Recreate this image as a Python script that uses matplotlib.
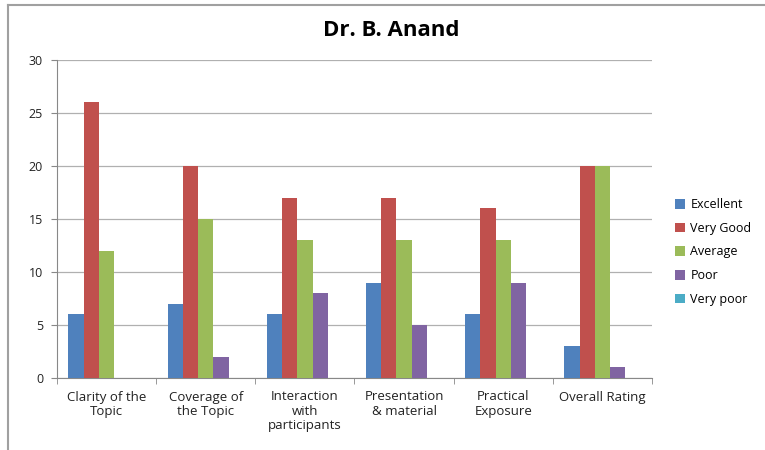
import matplotlib.pyplot as plt
import numpy as np
from matplotlib.lines import Line2D

plt.rcParams['font.family'] = ['Open Sans', 'DejaVu Sans']

categories = ['Clarity of the\nTopic', 'Coverage of\nthe Topic', 'Interaction\nwith\nparticipants',
              'Presentation\n& material', 'Practical\nExposure', 'Overall Rating']
series = ['Excellent', 'Very Good', 'Average', 'Poor', 'Very poor']
excellent = [6, 7, 6, 9, 6, 3]
very_good = [26, 20, 17, 17, 16, 20]
average = [12, 15, 13, 13, 13, 20]
poor = [0, 2, 8, 5, 9, 1]
very_poor = [0, 0, 0, 0, 0, 0]
values = [excellent, very_good, average, poor, very_poor]
colors = ['#4F81BD', '#C0504D', '#9BBB59', '#8064A2', '#4BACC6']

fig = plt.figure(figsize=(7.65, 4.5), dpi=100)
ax = fig.add_axes([57/765, 1-378/450, 595/765, 318/450])

# frame lines around the chart area
fig.add_artist(Line2D([8/765, 1], [1-5/450, 1-5/450], color='#a0a0a0', lw=1.5))
fig.add_artist(Line2D([8/765, 8/765], [0, 1-5/450], color='#a0a0a0', lw=1.5))

x = np.arange(len(categories))
w = 1/6.5
for i, (name, vals, c) in enumerate(zip(series, values, colors)):
    ax.bar(x + (i - 2)*w, vals, w, color=c, label=name, zorder=3)

ax.set_xlim(-0.5, len(categories) - 0.5)
ax.set_ylim(0, 30)
ax.set_yticks(range(0, 31, 5))
ax.yaxis.grid(True, color='#b0b0b0', lw=0.9, zorder=0)
ax.set_xticks(x)
ax.set_xticklabels(categories, fontsize=9.5, color='#222222', linespacing=1.15)
ax.set_xticks(np.arange(-0.5, len(categories)), minor=True)
ax.tick_params(axis='x', which='major', length=0, pad=9)
ax.tick_params(axis='x', which='minor', length=4, color='#888888')
ax.tick_params(axis='y', length=4, color='#888888', labelsize=9, labelcolor='#222222', pad=6)
for s in ['top', 'right']:
    ax.spines[s].set_visible(False)
for s in ['left', 'bottom']:
    ax.spines[s].set_color('#888888')

fig.text(391/765, 1-30/450, 'Dr. B. Anand', ha='center', va='center', fontsize=16, fontweight='bold')

leg = fig.legend(loc='upper left', bbox_to_anchor=(664/765, 1-187/450), frameon=False,
                 fontsize=9, handlelength=0.8, handleheight=0.8, handletextpad=0.4,
                 labelspacing=0.85)

plt.savefig('out.png', dpi=100)
